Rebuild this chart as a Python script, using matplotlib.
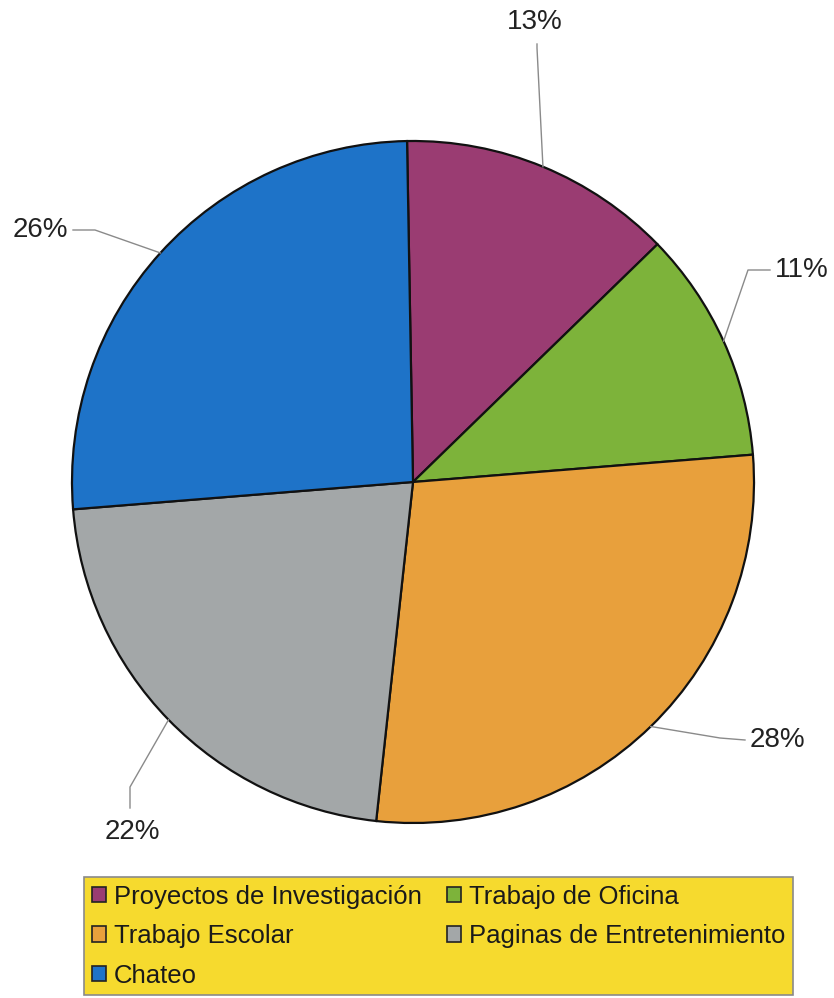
import numpy as np
import matplotlib.pyplot as plt

plt.rcParams['font.family'] = ['Liberation Sans', 'DejaVu Sans']

categorias = ['Proyectos de Investigación', 'Trabajo de Oficina', 'Trabajo Escolar',
              'Paginas de Entretenimiento', 'Chateo']
porcentajes = [13, 11, 28, 22, 26]
colores = ['#9A3C72', '#7DB33A', '#E8A03C', '#A3A7A8', '#1E73C8']

# codo y texto de cada etiqueta (pixeles, y hacia arriba)
codos = [(537, 950), (748, 728), (720, 260), (130, 211), (95, 768)]
pos_texto = [(535, 976), (775, 728), (750, 258), (132, 166), (68, 768)]
alineacion = ['center', 'left', 'left', 'center', 'right']

W, H = 834, 998
centro = (413, H - 482)
radio = 341
inicio = 91

fig = plt.figure(figsize=(W / 100, H / 100), dpi=100)
ax = fig.add_axes([0, 0, 1, 1])

ax.pie(porcentajes, colors=colores, startangle=inicio, counterclock=False,
       center=centro, radius=radio,
       wedgeprops=dict(edgecolor='#111111', linewidth=1.6))
ax.set_xlim(0, W)
ax.set_ylim(0, H)
ax.set_aspect('equal')
ax.axis('off')

# etiquetas con linea guia
acum = 0
for i, p in enumerate(porcentajes):
    medio = np.deg2rad(inicio - (acum + p / 2) * 3.6)
    acum += p
    bx = centro[0] + radio * np.cos(medio)
    by = centro[1] + radio * np.sin(medio)
    cx, cy = codos[i]
    tx, ty = pos_texto[i]
    if alineacion[i] == 'center':
        fx, fy = cx, (ty - 22) if ty > by else (ty + 24)
    elif alineacion[i] == 'left':
        fx, fy = tx - 5, ty
    else:
        fx, fy = tx + 5, ty
    ax.plot([bx, cx, fx], [by, cy, fy], color='#8a8a8a', lw=1.0)
    ax.text(tx, ty, f'{p}%', ha=alineacion[i], va='center', fontsize=20,
            color='#222222')

# leyenda en dos columnas
orden = [0, 2, 4, 1, 3]
handles = [plt.Rectangle((0, 0), 1, 1, facecolor=colores[k], edgecolor='#222222', lw=1.2)
           for k in orden]
etiquetas = [categorias[k] for k in orden]
leg = fig.legend(handles, etiquetas, loc='upper left', ncol=2,
                 bbox_to_anchor=(84 / W, 1 - 877 / H),
                 borderaxespad=0, frameon=True, fancybox=False, fontsize=18.5,
                 facecolor='#F6DA2E', edgecolor='#8a8a8a', framealpha=1,
                 handlelength=0.55, handleheight=0.55, handletextpad=0.3,
                 labelspacing=0.6, borderpad=0.3, columnspacing=1.0)
leg.get_frame().set_linewidth(1.2)
for t in leg.get_texts():
    t.set_color('#1a1a1a')

fig.savefig('out.png', dpi=100, facecolor='white')
